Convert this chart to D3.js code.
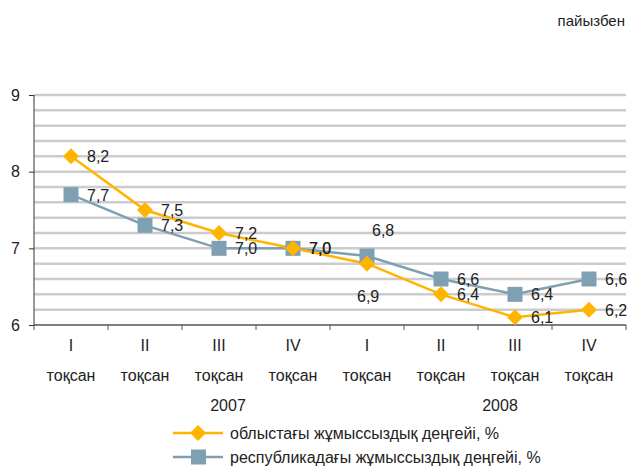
<!DOCTYPE html>
<html><head><meta charset="utf-8">
<script src="https://cdn.jsdelivr.net/npm/d3@7/dist/d3.min.js"></script>
<style>body{margin:0;background:#fff}svg{display:block;font-family:"Liberation Sans",Arial,sans-serif}</style>
</head><body><svg id="c" width="627" height="467"></svg>
<script>
const quarters = ["I","II","III","IV","I","II","III","IV"];
const quarterWord = "тоқсан";
const years = ["2007","2008"];
const regional = [8.2,7.5,7.2,7.0,6.8,6.4,6.1,6.2];
const national = [7.7,7.3,7.0,7.0,6.9,6.6,6.4,6.6];
const regionalLabels = ["8,2","7,5","7,2","7,0","6,8","6,4","6,1","6,2"];
const nationalLabels = ["7,7","7,3","7,0","7,0","6,9","6,6","6,4","6,6"];
const yTicks = [6,7,8,9];
const unitLabel = "пайызбен";
const legendNames = ["облыстағы жұмыссыздық деңгейі, %","республикадағы жұмыссыздық деңгейі, %"];

const orange = "#FFB400", blue = "#7F9FB2";
const FS = 16;
const svg = d3.select("#c");
const x = d3.scaleBand().domain(d3.range(8)).range([34,626]);
const y = d3.scaleLinear().domain([6,9]).range([325,95]);
const cx = i => x(i) + x.bandwidth()/2;

// gridlines every 0.2
const grid = d3.range(6.2, 9.0001, 0.2);
svg.append("g").selectAll("line").data(grid).join("line")
  .attr("x1",34).attr("x2",626).attr("y1",d=>y(d)).attr("y2",d=>y(d))
  .attr("stroke","#cccccc").attr("stroke-width",2.5);

// y axis
const ya = svg.append("g").attr("transform","translate(34,0)")
  .call(d3.axisLeft(y).tickValues(yTicks).tickSize(5).tickPadding(9).tickFormat(d3.format("d")));
ya.select(".domain").attr("stroke","#333").attr("d","M0,95V325");
ya.selectAll(".tick line").attr("stroke","#333");
ya.selectAll("text").attr("font-size",FS).attr("fill","#222").attr("font-family","Liberation Sans, Arial, sans-serif");

// x axis
const xa = svg.append("g").attr("transform","translate(0,325)");
xa.append("line").attr("x1",34).attr("x2",626).attr("stroke","#555").attr("stroke-width",1.5);
xa.selectAll("line.t").data(d3.range(9)).join("line").attr("class","t")
  .attr("x1",i=>i<8?x(i):x.range()[1]).attr("x2",i=>i<8?x(i):x.range()[1])
  .attr("y1",0).attr("y2",5).attr("stroke","#555");
svg.append("g").selectAll("text").data(quarters).join("text")
  .attr("x",(d,i)=>cx(i)).attr("y",351).attr("text-anchor","middle")
  .attr("font-size",FS).attr("fill","#222").text(d=>d);
svg.append("g").selectAll("text").data(quarters).join("text")
  .attr("x",(d,i)=>cx(i)).attr("y",381).attr("text-anchor","middle")
  .attr("font-size",FS).attr("fill","#222").text(quarterWord);
const yearX = [228, 500];
svg.append("g").selectAll("text").data(years).join("text")
  .attr("x",(d,i)=>yearX[i]).attr("y",411).attr("text-anchor","middle")
  .attr("font-size",FS).attr("fill","#222").text(d=>d);

// lines
const line = d3.line().x((d,i)=>cx(i)).y(d=>y(d));
svg.append("path").datum(national).attr("d",line).attr("fill","none").attr("stroke",blue).attr("stroke-width",2.5);
svg.append("path").datum(regional).attr("d",line).attr("fill","none").attr("stroke",orange).attr("stroke-width",2.5);

const diamond = (s) => `M0,${-s}L${s},0L0,${s}L${-s},0Z`;
svg.append("g").selectAll("rect").data(national).join("rect")
  .attr("x",(d,i)=>cx(i)-7.5).attr("y",d=>y(d)-7.5).attr("width",15).attr("height",15).attr("fill",blue);
svg.append("g").selectAll("path").data(regional).join("path")
  .attr("transform",(d,i)=>`translate(${cx(i)},${y(d)})`).attr("d",diamond(8)).attr("fill",orange);

// data labels (Q1 2008 labels were moved in original)
const labOff = (series, i) => {
  if (i===4) return series==="r" ? [5,-34] : [-10,40];
  return [16,0];
};
svg.append("g").selectAll("text").data(national).join("text")
  .attr("x",(d,i)=>cx(i)+labOff("n",i)[0]).attr("y",(d,i)=>y(d)+labOff("n",i)[1]+6)
  .attr("font-size",FS).attr("fill","#222").text((d,i)=>nationalLabels[i]);
svg.append("g").selectAll("text").data(regional).join("text")
  .attr("x",(d,i)=>cx(i)+labOff("r",i)[0]).attr("y",(d,i)=>y(d)+labOff("r",i)[1]+6)
  .attr("font-size",FS).attr("fill","#222").text((d,i)=>regionalLabels[i]);

// unit
svg.append("text").attr("x",625).attr("y",26).attr("text-anchor","end")
  .attr("font-size",15).attr("fill","#222").text(unitLabel);

// legend
const lg = svg.append("g");
[[orange,"d"],[blue,"s"]].forEach((c,k)=>{
  const yy = 433 + k*24;
  lg.append("line").attr("x1",173).attr("x2",223).attr("y1",yy).attr("y2",yy).attr("stroke",c[0]).attr("stroke-width",2.5);
  if (c[1]==="d") lg.append("path").attr("transform",`translate(198,${yy})`).attr("d",diamond(8)).attr("fill",c[0]);
  else lg.append("rect").attr("x",191).attr("y",yy-7.5).attr("width",15).attr("height",15).attr("fill",c[0]);
  lg.append("text").attr("x",230).attr("y",yy+6).attr("font-size",FS).attr("fill","#222").text(legendNames[k]);
});
</script></body></html>
